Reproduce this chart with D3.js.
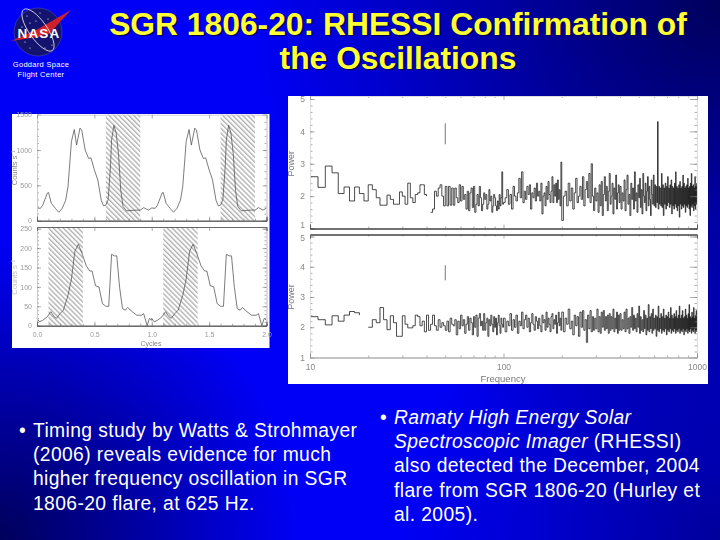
<!DOCTYPE html>
<html>
<head>
<meta charset="utf-8">
<script src="https://cdn.jsdelivr.net/npm/d3@7"></script>
<style>
  html, body { margin: 0; padding: 0; background: #0000c0; overflow: hidden; }
  text { font-family: "Liberation Sans", Arial, sans-serif; }
</style>
</head>
<body>
<div id="slide"></div>
<script>
// folded pulse profiles, one cycle (drawn twice)
var cycleCounts = [
  [0,180],[0.03,175],[0.05,220],[0.09,390],[0.10,400],[0.125,245],[0.16,175],[0.19,120],[0.22,175],[0.25,290],
  [0.27,480],[0.30,1120],[0.325,1290],[0.345,1070],[0.375,1310],[0.39,1280],[0.42,1000],[0.45,880],[0.47,890],
  [0.50,720],[0.53,575],[0.56,290],[0.58,210],[0.60,220],[0.62,300],[0.64,760],[0.65,1140],[0.67,1350],[0.69,1240],
  [0.71,950],[0.73,430],[0.75,200],[0.78,140],[0.87,150],[0.90,150],[0.93,185],[0.97,150],[1,180]
];
var cycleCountsLow = [
  [0,19],[0.02,10],[0.05,14],[0.09,23],[0.12,36],[0.15,23],[0.17,19],[0.20,31],[0.23,40],[0.27,78],[0.30,120],
  [0.33,192],[0.36,210],[0.39,188],[0.43,154],[0.46,141],[0.48,141],[0.51,103],[0.54,100],[0.57,57],[0.60,50],
  [0.625,50],[0.65,184],[0.675,180],[0.695,180],[0.72,99],[0.745,44],[0.77,40],[0.79,47],[0.83,36],[0.87,27],
  [0.91,27],[0.93,31],[0.96,0],[0.98,19],[1,14]
];
var hatchTop = [[0.6,0.9],[1.6,1.9]];
var hatchBottom = [[0.1,0.4],[1.1,1.4]];

// power spectra, each array covers a frequency band in even bins
var topLow = [2.6,2.27,2.93,2.72,2.08,2.28,1.85,2.28,2.08,1.85,
  2.35,2.2,1.95,1.72,1.72,2.03,1.9,1.75,1.75,2.13,
  2.0,1.75,2.4,1.95,1.8,2.05,2.1,2.35,2.35,2.05,
  2.0,null,1.5,1.6,2.15,2.0,2.25,2.35,2.0,1.7,
  2.3,1.7,2.3,1.72,2.25,1.72,2.25,1.95,1.8,2.35,
  1.85,2.3,1.9,2.05,1.6,2.15,1.55,2.1,2.25,1.65,
  2.3,1.5,1.75,2.05,1.7,2.3,1.95,1.55,1.75,2.1,
  1.9,2.05,1.6,1.75,2.2,1.85,2.0,1.5,1.7,2.05,
  1.95,1.7,1.55,1.85,1.6,2.05,1.7,1.95,2.75,1.75];
var topMid = [1.8,1.95,2.2,1.75,2.05,1.6,2.3,2.0,1.85,2.1,2.55,1.95,2.75,1.8,2.15,1.9,2.3,2.05,2.35,1.6,
  2.1,1.95,2.25,1.85,2.4,2.0,2.15,1.85,2.4,1.45,2.0,2.1,1.7,2.3,1.9,2.45,2.05,1.8,2.15,2.6,
  1.8,2.35,2.0,2.4,1.8,2.5,1.9,2.2,1.7,3.05];
var topHigh = [1.25,2.0,2.15,1.7,2.4,1.85,2.25,1.6,2.1,2.55,1.8,2.0,2.3,1.9,2.6,1.7,2.2,2.45,1.95,2.7,
  1.8,3.0,2.0,1.55,2.25,1.85,2.1,1.5,2.35,1.7,2.45,1.4,2.05,2.6,1.85,2.3,1.55,2.15,2.7,1.75,
  2.0,2.4,1.45,2.25,1.9,2.65,1.6,2.1,2.35,1.8];
var topEnd = [2.3,1.6,2.1,1.85,2.5,1.55,2.2,2.65,1.75,2.05,1.4,2.4,1.9,2.25,1.6,2.75,1.85,2.1,1.5,2.35,
  1.95,2.55,1.65,2.2,1.45,2.7,2.0,1.8,2.4,1.55,2.15,2.6,1.7,2.3,1.9,1.4,2.5,2.05,1.75,2.65,
  1.7,2.35,1.65,2.3,1.8,4.3,
  1.6,2.3,1.75,2.25,1.7,2.7,1.65,2.35,1.4,2.25,1.75,2.4,1.6,2.3,1.7,2.6,1.8,2.25,1.65,2.35,
  1.75,2.5,1.45,2.3,1.7,2.25,1.6,2.4,1.75,2.75,1.65,2.3,1.55,2.25,1.7,2.35,1.35,2.45,1.75,2.25,
  1.6,2.3,1.7,2.65,1.65,2.4,1.75,2.25,1.5,2.3,1.7,2.35,1.65,2.55,1.75,2.25,1.6,2.3,1.4,2.4,
  1.7,2.7,1.65,2.3,1.75,2.35,1.55,2.25,1.7,2.6,1.6,2.3,1.75,2.4];

var bottomLow = [2.35,2.25,2.08,2.38,2.2,2.4,2.52,2.48,2.4,null,
  2.0,2.25,2.15,2.65,2.25,1.92,2.38,2.15,1.7,1.7,
  2.38,2.1,1.98,1.98,2.05,2.4,2.35,2.05,2.2,1.85,
  2.4,1.9,2.1,2.4,2.05,1.9,2.25,2.0,2.15,2.05,
  1.9,2.2,1.85,2.3,2.1,2.05,2.25,1.75,2.2,1.95,
  2.4,2.05,2.25,1.8,2.1,2.35,1.9,2.3,2.15,1.75,
  2.35,2.0,2.4,1.7,2.3,2.45,2.05,2.2,1.9,2.45,
  1.9,2.15,2.3,1.7,2.25,2.05,2.4,2.1,1.85,2.35,
  2.0,2.3,1.75,2.15,2.4,2.05,1.8,2.3,2.1,2.0];
var bottomMid = [2.3,1.85,2.2,2.05,2.45,1.9,2.25,2.0,2.4,1.8,2.2,2.05,2.5,1.95,2.25,2.4,2.0,2.3,1.85,2.15,
  2.45,2.1,1.9,2.35,2.2,1.95,2.3,2.05,1.85,2.4,2.15,2.25,1.9,2.5,2.0,2.3,2.1,1.85,2.35,2.45,
  1.95,2.25,2.1,2.4,1.8,2.15,2.5,2.05,2.3,1.9];
var bottomHigh = [2.5,1.85,2.3,2.1,2.6,1.95,2.2,1.75,2.4,2.05,2.35,1.7,2.5,2.0,2.55,1.9,2.25,1.5,2.4,1.95,
  2.55,1.85,2.35,1.9,2.3,1.95,2.6,1.85,2.35,1.8,2.5,2.0,2.55,1.9,2.35,1.95,2.4,1.8,2.45,1.9,
  2.35,1.95,2.6,1.85,2.3,1.95,2.5,1.8,2.4,1.9];
var bottomEnd = [2.45,1.9,2.25,1.95,2.5,1.85,2.6,1.95,2.3,1.8,2.35,2.0,2.65,1.9,2.4,1.95,2.3,1.85,2.45,2.0,
  2.7,1.8,2.35,1.9,2.25,1.85,2.55,1.95,2.4,1.75,2.3,1.9,2.75,1.85,2.35,1.95,2.45,1.8,2.6,1.9,
  2.3,1.95,2.4,1.7,2.35,1.9,2.7,1.85,2.3,1.95,2.45,1.8,2.35,1.9,2.6,1.85,2.3,1.95,2.4,1.75,
  2.35,1.9,2.5,1.85,2.3,1.95,2.65,1.8,2.4,1.9,2.3,1.85,2.45,1.95,2.35,1.8,2.55,1.9,2.3,1.85,
  2.4,1.95,2.7,1.8,2.3,1.9,2.4,1.85,2.55,1.95,2.3,1.75,2.35,1.9,2.6,1.85,2.4,1.95,2.3,1.8,
  2.45,1.9,2.75,1.85,2.35,1.95,2.3,1.8,2.5,1.9,2.35,1.85,2.65,1.95,2.3,1.8,2.4,1.9,2.55,1.85];

var bandEdges = [10,100,200,400,1000];
var markerFreq = 50;
var markerTop = [3.6,4.25];
var markerBottom = [3.55,4.05];

var countTicks = [0,500,1000,1500];
var countTicksLow = [0,50,100,150,200,250];
var cycleTicks = [0,0.5,1,1.5,2];
var powerTicks = [1,2,3,4,5];
var freqTicks = [10,100,1000];
var freqMinor = [20,30,40,50,60,70,80,90,200,300,400,500,600,700,800,900];

var titleLines = ['SGR 1806-20: RHESSI Confirmation of','the Oscillations'];
var leftBullet = ['Timing study by Watts & Strohmayer','(2006) reveals evidence for much','higher frequency oscillation in SGR','1806-20 flare, at 625 Hz.'];

var svg = d3.select('#slide').append('svg').attr('width',720).attr('height',540).style('display','block');

var defs = svg.append('defs');

function cornerShade(id, cx, cy, r, opacity) {
  var g = defs.append('radialGradient').attr('id',id).attr('gradientUnits','userSpaceOnUse')
    .attr('cx',cx).attr('cy',cy).attr('r',r);
  g.append('stop').attr('offset','0').attr('stop-color','#000040').attr('stop-opacity',opacity);
  g.append('stop').attr('offset','1').attr('stop-color','#000040').attr('stop-opacity',0);
}
cornerShade('shadeTR',720,0,470,0.85);
cornerShade('shadeBL',0,540,300,0.85);
cornerShade('shadeBR',720,540,320,0.5);

var hatch = defs.append('pattern').attr('id','hatch').attr('patternUnits','userSpaceOnUse')
  .attr('width',3.5).attr('height',3.5).attr('patternTransform','rotate(45)');
hatch.append('line').attr('x1',0).attr('y1',1).attr('x2',3.5).attr('y2',1).attr('stroke','#666').attr('stroke-width',0.7);

defs.append('filter').attr('id','soft').append('feGaussianBlur').attr('stdDeviation',0.3);

svg.append('rect').attr('width',720).attr('height',540).attr('fill','#0000f6');
['shadeTR','shadeBL','shadeBR'].forEach(function(id) {
  svg.append('rect').attr('width',720).attr('height',540).attr('fill','url(#'+id+')');
});

// title
svg.selectAll('.title').data(titleLines).enter().append('text')
  .attr('x',398).attr('y',function(d,i){ return 35 + i*34; })
  .attr('text-anchor','middle').attr('font-size',31.8).attr('font-weight','bold')
  .attr('fill','#ffff33')
  .style('text-shadow','1px 1px 1px #000040')
  .text(function(d){ return d; });

// NASA meatball
var logo = svg.append('g');
logo.append('circle').attr('cx',38).attr('cy',32).attr('r',24).attr('fill','#14146e').attr('stroke','#5a5aa8').attr('stroke-width',0.5);
var logoStars = [[27,16],[40,13],[48,19],[30,23],[22,27],[52,45],[45,48],[30,48],[36,21],[55,26],[25,42]];
logo.selectAll('.star').data(logoStars).enter().append('circle')
  .attr('cx',function(d){return d[0];}).attr('cy',function(d){return d[1];}).attr('r',0.6).attr('fill','#fff');
logo.append('path').attr('d','M11 41 L38 29 L71 10 L49 34 L38 37 Z').attr('fill','#d0202c');
logo.append('ellipse').attr('cx',38).attr('cy',30).attr('rx',25).attr('ry',9).attr('fill','none')
  .attr('stroke','#fff').attr('stroke-width',0.7).attr('transform','rotate(55 38 30)');
logo.append('text').attr('x',39).attr('y',38).attr('text-anchor','middle').attr('font-size',13.5)
  .attr('font-weight','bold').attr('fill','#fff').attr('letter-spacing',1.2).text('NASA');
logo.append('text').attr('x',41).attr('y',67).attr('text-anchor','middle').attr('font-size',7.5)
  .attr('fill','#fff').attr('letter-spacing',0.3).text('Goddard Space');
logo.append('text').attr('x',41).attr('y',77).attr('text-anchor','middle').attr('font-size',7.5)
  .attr('fill','#fff').attr('letter-spacing',0.3).text('Flight Center');

// left figure: pulse profiles
svg.append('rect').attr('x',12).attr('y',114).attr('width',257.5).attr('height',234).attr('fill','#fff');
var leftFig = svg.append('g').attr('filter','url(#soft)');

var xCycle = d3.scaleLinear().domain([0,2]).range([37,266.5]);
var yCounts = d3.scaleLinear().domain([0,1500]).range([220.7,114.7]);
var yCountsLow = d3.scaleLinear().domain([0,250]).range([325.7,228.7]);

function drawProfile(values, yScale, hatchBands, ticks, minorStep, topEdge, yTitle, titleColor, showX, topColor) {
  var g = leftFig.append('g');
  var x0 = xCycle.range()[0], x1 = xCycle.range()[1], bottom = yScale.range()[0];

  g.selectAll('.band').data(hatchBands).enter().append('rect')
    .attr('x',function(d){ return xCycle(d[0]); })
    .attr('width',function(d){ return xCycle(d[1]) - xCycle(d[0]); })
    .attr('y',topEdge).attr('height',bottom - topEdge)
    .attr('fill','url(#hatch)');

  var twoCycles = values.concat(values.map(function(d){ return [d[0]+1, d[1]]; }));
  g.append('path').datum(twoCycles)
    .attr('fill','none').attr('stroke','#444').attr('stroke-width',0.7)
    .attr('d', d3.line().x(function(d){ return xCycle(d[0]); }).y(function(d){ return yScale(d[1]); }));

  var maxV = yScale.domain()[1];
  var yMinor = d3.range(0, maxV + 0.001, minorStep);
  var xMinor = d3.range(0, 2.001, 0.1);

  g.append('g').attr('transform','translate('+x0+',0)').call(d3.axisLeft(yScale).tickValues(yMinor).tickSize(-2).tickFormat(''));
  g.append('g').attr('transform','translate('+x0+',0)').call(d3.axisLeft(yScale).tickValues(ticks).tickSize(-4).tickPadding(5).tickFormat(d3.format('d')));
  g.append('g').attr('transform','translate('+x1+',0)').call(d3.axisRight(yScale).tickValues(yMinor).tickSize(-2).tickFormat(''));
  g.append('g').attr('transform','translate('+x1+',0)').call(d3.axisRight(yScale).tickValues(ticks).tickSize(-4).tickFormat(''));
  g.selectAll('.domain').attr('stroke','#ccc').attr('stroke-width',0.8);

  var bx = g.append('g').attr('transform','translate(0,'+bottom+')');
  bx.call(d3.axisBottom(xCycle).tickValues(xMinor).tickSize(-2).tickFormat(''));
  bx.append('g').call(d3.axisBottom(xCycle).tickValues(cycleTicks).tickSize(-4).tickPadding(6)
    .tickFormat(showX ? d3.format('.1f') : ''));
  bx.selectAll('.domain').attr('stroke','#555').attr('stroke-width',0.9);

  var tx = g.append('g').attr('transform','translate(0,'+topEdge+')');
  tx.call(d3.axisTop(xCycle).tickValues(cycleTicks).tickSize(-4).tickFormat(''));
  tx.selectAll('.domain').attr('stroke',topColor).attr('stroke-width',0.9);

  g.selectAll('.tick line').attr('stroke','#777').attr('stroke-width',0.6);
  g.selectAll('.tick text').attr('fill','#999').attr('font-size',7).style('font-family','"Liberation Sans", Arial, sans-serif');

  g.append('text').attr('transform','translate(17,'+yScale(maxV/2)+') rotate(-90)')
    .attr('text-anchor','middle').attr('font-size',7.5).attr('fill',titleColor).text(yTitle);
}

drawProfile(cycleCounts, yCounts, hatchTop, countTicks, 100, 114.7, 'Counts s\u207b\u00b9', '#888', false, '#ccc');
drawProfile(cycleCountsLow, yCountsLow, hatchBottom, countTicksLow, 10, 227, 'Counts s\u207b\u00b9', '#c0c0c0', true, '#555');
leftFig.append('text').attr('x',151).attr('y',346).attr('text-anchor','middle').attr('font-size',7).attr('fill','#888').text('Cycles');

// right figure: power spectra
svg.append('rect').attr('x',288).attr('y',96).attr('width',420).attr('height',288).attr('fill','#fff');
var rightFig = svg.append('g').attr('filter','url(#soft)');

var xFreq = d3.scaleLog().domain([10,1000]).range([310,697]);
var yPowerTop = d3.scaleLinear().domain([1,5]).range([228.5,99]);
var yPowerBottom = d3.scaleLinear().domain([1,5]).range([357.5,236.5]);

function joinBands(bands) {
  var out = [];
  bands.forEach(function(vals, b) {
    var step = (bandEdges[b+1] - bandEdges[b]) / vals.length;
    vals.forEach(function(v, i) { out.push({f: bandEdges[b] + i*step, p: v}); });
  });
  return out;
}

function drawSpectrum(bands, yScale, marker, topEdge, showX) {
  var g = rightFig.append('g');
  var x0 = 310, x1 = 697, bottom = yScale(1);
  var spec = joinBands(bands);
  g.append('path').datum(spec)
    .attr('fill','none').attr('stroke','#111').attr('stroke-width',0.75)
    .attr('d', d3.line().defined(function(d){ return d.p !== null; })
      .curve(d3.curveStepAfter)
      .x(function(d){ return xFreq(d.f); }).y(function(d){ return yScale(d.p); }));

  g.append('line').attr('x1',xFreq(markerFreq)).attr('x2',xFreq(markerFreq))
    .attr('y1',yScale(marker[0])).attr('y2',yScale(marker[1]))
    .attr('stroke','#555').attr('stroke-width',0.8);

  var yMinor = d3.range(1, 5.001, 0.2);
  g.append('g').attr('transform','translate('+x0+',0)').call(d3.axisLeft(yScale).tickValues(yMinor).tickSize(-2.5).tickFormat(''));
  var yMajor = g.append('g').attr('transform','translate('+x0+',0)').call(d3.axisLeft(yScale).tickValues(powerTicks).tickSize(-4.5).tickPadding(5).tickFormat(d3.format('d')));
  g.append('g').attr('transform','translate('+x1+',0)').call(d3.axisRight(yScale).tickValues(yMinor).tickSize(-2.5).tickFormat(''));
  g.append('g').attr('transform','translate('+x1+',0)').call(d3.axisRight(yScale).tickValues(powerTicks).tickSize(-7).tickFormat(''));
  g.selectAll('.domain').attr('stroke','#ddd').attr('stroke-width',0.8);

  // the two panels share a gap, so the end labels sit just off their ticks
  yMajor.selectAll('.tick text').filter(function(d){ return showX ? d === 5 : d === 1; })
    .attr('y', showX ? 1.5 : -3.5);

  var bx = g.append('g').attr('transform','translate(0,'+bottom+')');
  bx.call(d3.axisBottom(xFreq).tickValues(freqMinor).tickSize(-2).tickFormat(''));
  bx.append('g').call(d3.axisBottom(xFreq).tickValues(freqTicks).tickSize(-4).tickPadding(6)
    .tickFormat(showX ? d3.format('d') : ''));
  bx.selectAll('.domain').attr('stroke', showX ? '#aaa' : '#333').attr('stroke-width',0.9);

  var tx = g.append('g').attr('transform','translate(0,'+topEdge+')');
  tx.call(d3.axisTop(xFreq).tickValues(freqMinor).tickSize(-2).tickFormat(''));
  tx.append('g').call(d3.axisTop(xFreq).tickValues(freqTicks).tickSize(-4).tickFormat(''));
  tx.selectAll('.domain').attr('stroke', showX ? '#333' : '#ddd').attr('stroke-width',0.9);

  g.selectAll('.tick line').attr('stroke','#777').attr('stroke-width',0.6);
  g.selectAll('.tick text').attr('fill','#888').attr('font-size',8.5).style('font-family','"Liberation Sans", Arial, sans-serif');

  g.append('text').attr('transform','translate(294,'+(yScale(3))+') rotate(-90)')
    .attr('text-anchor','middle').attr('font-size',9).attr('fill','#777').text('Power');
}

drawSpectrum([topLow,topMid,topHigh,topEnd], yPowerTop, markerTop, 96, false);
drawSpectrum([bottomLow,bottomMid,bottomHigh,bottomEnd], yPowerBottom, markerBottom, 234.5, true);

rightFig.append('text').attr('x',503).attr('y',382).attr('text-anchor','middle').attr('font-size',9.5).attr('fill','#777').text('Frequency');

// bullets
var textSize = 19.3;
var textGap = 0.38;
svg.append('text').attr('x',19).attr('y',437).attr('font-size',textSize).attr('fill','#fff').text('\u2022');
svg.selectAll('.leftLine').data(leftBullet).enter().append('text')
  .attr('x',33).attr('y',function(d,i){ return 437 + i*24.2; })
  .attr('font-size',textSize).attr('letter-spacing',textGap).attr('fill','#fff').text(function(d){ return d; });

svg.append('text').attr('x',380).attr('y',424).attr('font-size',textSize).attr('fill','#fff').text('\u2022');
var r1 = svg.append('text').attr('x',394).attr('y',424).attr('font-size',textSize).attr('letter-spacing',textGap).attr('fill','#fff');
r1.append('tspan').attr('font-style','italic').text('Ramaty High Energy Solar');
var r2 = svg.append('text').attr('x',394).attr('y',448.2).attr('font-size',textSize).attr('letter-spacing',textGap).attr('fill','#fff');
r2.append('tspan').attr('font-style','italic').text('Spectroscopic Imager');
r2.append('tspan').text(' (RHESSI)');
var rightRest = ['also detected the December, 2004','flare from SGR 1806-20 (Hurley et','al. 2005).'];
svg.selectAll('.rightLine').data(rightRest).enter().append('text')
  .attr('x',394).attr('y',function(d,i){ return 472.4 + i*24.2; })
  .attr('font-size',textSize).attr('letter-spacing',textGap).attr('fill','#fff').text(function(d){ return d; });
</script>
</body>
</html>
